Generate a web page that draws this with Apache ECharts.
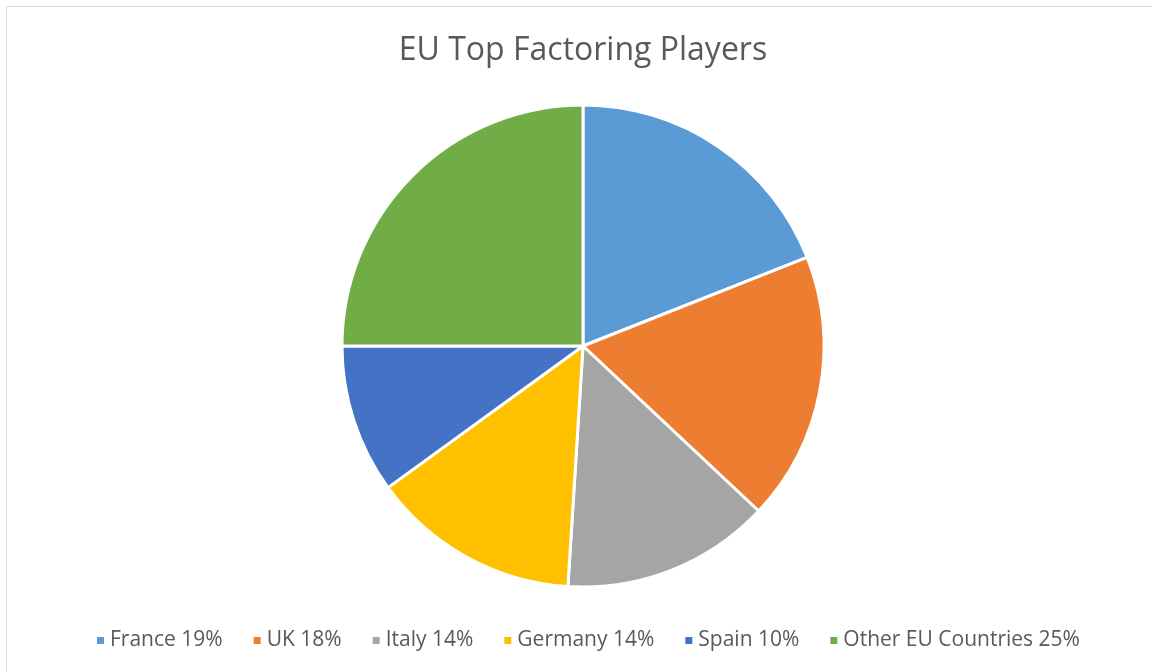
<!DOCTYPE html>
<html>
<head>
<meta charset="utf-8">
<script src="https://cdn.jsdelivr.net/npm/echarts@6/dist/echarts.min.js"></script>
<style>
  html, body { margin: 0; padding: 0; background: #fff; }
  #frame { position: absolute; left: 6px; top: 6px; width: 1160px; height: 680px; border: 1px solid #d9d9d9; box-sizing: border-box; }
  #chart { position: absolute; left: 0; top: 0; width: 1152px; height: 672px; }
</style>
</head>
<body>
<div id="frame"></div>
<div id="chart"></div>
<script>
// Market share of factoring volume by country (percent)
const countries = ['France', 'UK', 'Italy', 'Germany', 'Spain', 'Other EU Countries'];
const shares = [19, 18, 14, 14, 10, 25];
const colors = ['#5b9bd5', '#ed7d31', '#a5a5a5', '#ffc000', '#4472c4', '#70ad47'];

const chart = echarts.init(document.getElementById('chart'), null, { renderer: 'canvas' });
const font = '"Open Sans", "Noto Sans", sans-serif';

chart.setOption({
  animation: false,
  color: colors,
  title: {
    text: 'EU Top Factoring Players',
    left: 578,
    textAlign: 'center',
    top: 30,
    textStyle: { fontFamily: font, fontSize: 32, fontWeight: 'normal', color: '#595959' }
  },
  legend: {
    bottom: 16,
    left: 90,
    itemWidth: 9,
    itemHeight: 9,
    itemGap: 29,
    icon: 'rect',
    textStyle: { fontFamily: font, fontSize: 21, color: '#595959' },
    formatter: function (name) {
      const i = countries.indexOf(name);
      return name + ' ' + shares[i] + '%';
    }
  },
  series: [{
    type: 'pie',
    center: [583, 346],
    radius: 241,
    startAngle: 90,
    clockwise: true,
    label: { show: false },
    labelLine: { show: false },
    itemStyle: { borderColor: '#ffffff', borderWidth: 3 },
    emphasis: { disabled: true },
    data: countries.map((c, i) => ({ name: c, value: shares[i] }))
  }]
});
</script>
</body>
</html>
